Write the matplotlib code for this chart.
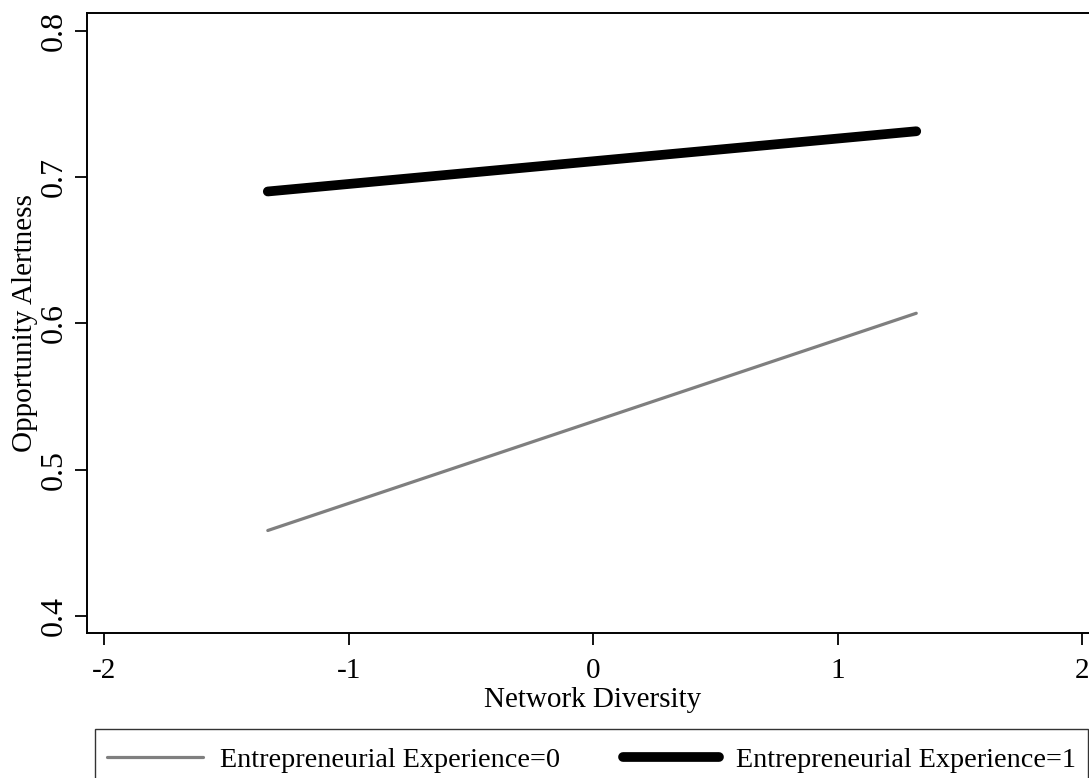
import matplotlib
matplotlib.use("Agg")
import matplotlib.pyplot as plt
from matplotlib.patches import Rectangle

plt.rcParams['font.family'] = ['Liberation Serif', 'DejaVu Serif']
plt.rcParams['axes.unicode_minus'] = False

# Data
network_diversity = [-1.331, 1.322]
alert_exp0 = [0.4583, 0.6069]
alert_exp1 = [0.6902, 0.7314]
series_labels = ["Entrepreneurial Experience=0", "Entrepreneurial Experience=1"]
x_ticks = [-2, -1, 0, 1, 2]
y_ticks = [0.4, 0.5, 0.6, 0.7, 0.8]

W, H = 1089, 778
fig = plt.figure(figsize=(W / 100, H / 100), dpi=100)
ax = fig.add_axes([0.0796, 0.1868, 0.9301, 0.7965])

ax.plot(network_diversity, alert_exp0, color='#7f7f7f', lw=2.3,
        solid_capstyle='round', label=series_labels[0])
ax.plot(network_diversity, alert_exp1, color='black', lw=7,
        solid_capstyle='round', label=series_labels[1])

ax.set_xlim(-2.072, 2.072)
ax.set_ylim(0.3884, 0.8123)
ax.set_xticks(x_ticks)
ax.set_xticklabels([str(t) for t in x_ticks])
ax.set_yticks(y_ticks)
ax.set_yticklabels([f"{t:.1f}" for t in y_ticks], rotation=90, va='center')

for s in ax.spines.values():
    s.set_linewidth(1.4)
    s.set_color('black')

ax.tick_params(axis='both', direction='out', length=8.5, width=1.3,
               colors='black')
ax.tick_params(axis='x', labelsize=21, pad=10)
ax.tick_params(axis='y', labelsize=23, pad=4.5)

ax.set_xlabel("Network Diversity", fontsize=21, labelpad=0)
ax.set_ylabel("Opportunity Alertness", fontsize=21, labelpad=0)
ax.xaxis.set_label_coords(0.5, -0.087)
ax.yaxis.set_label_coords(-0.0482, 0.5)

# legend frame (extends past the bottom edge, as in the reference)
fig.patches.append(Rectangle((95 / W, -0.05), (1088 - 95) / W, 0.05 + 1 - 729.3 / H,
                             transform=fig.transFigure, fill=False,
                             edgecolor='#333333', linewidth=1.0))

leg = fig.legend(loc='center left',
                 bbox_to_anchor=(95 / W, 1 - 760 / H, (1088 - 95) / W, 0),
                 mode='expand',
                 ncol=2, fontsize=20.3, frameon=False,
                 borderpad=0.42, handlelength=3.4, handletextpad=0.6,
                 columnspacing=2.1, borderaxespad=0)

fig.savefig("out.png", dpi=100)
